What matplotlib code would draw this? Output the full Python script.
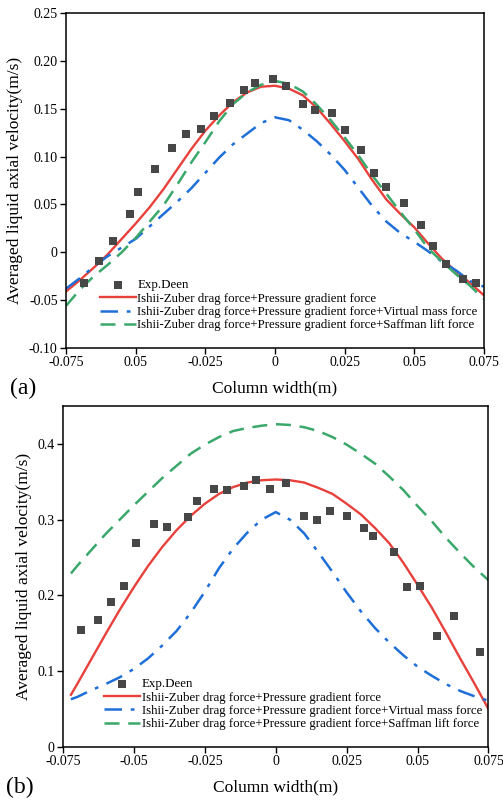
import numpy as np
import matplotlib.pyplot as plt
from matplotlib.ticker import FixedLocator, FixedFormatter

plt.rcParams['font.family'] = ['Liberation Serif', 'DejaVu Serif']
plt.rcParams['mathtext.fontset'] = 'stix'

# ---- panel (a): experimental points
exp_a_x = [-0.0686, -0.063, -0.058, -0.052, -0.049, -0.043, -0.037, -0.032, -0.0265,
           -0.022, -0.016, -0.011, -0.007, -0.0007, 0.004, 0.010, 0.0145, 0.0206,
           0.025, 0.031, 0.0357, 0.040, 0.0463, 0.0524, 0.0568, 0.0614, 0.0673, 0.072]
exp_a_y = [-0.032, -0.009, 0.012, 0.040, 0.063, 0.087, 0.109, 0.124, 0.129,
           0.142, 0.156, 0.170, 0.177, 0.181, 0.174, 0.155, 0.149, 0.146,
           0.128, 0.107, 0.083, 0.068, 0.051, 0.029, 0.007, -0.012, -0.028, -0.032]

# ---- panel (a): simulations
sim_a_x = [-0.075, -0.07, -0.065, -0.06, -0.055, -0.05, -0.045, -0.04, -0.035, -0.03,
           -0.025, -0.02, -0.015, -0.01, -0.005, 0.0, 0.005, 0.01, 0.015, 0.02,
           0.025, 0.03, 0.035, 0.04, 0.045, 0.05, 0.055, 0.06, 0.065, 0.07, 0.075]
drag_pg_a = [-0.041, -0.029, -0.016, -0.002, 0.014, 0.030, 0.047, 0.066, 0.087, 0.108,
             0.127, 0.143, 0.157, 0.167, 0.173, 0.174, 0.171, 0.164, 0.151, 0.134,
             0.116, 0.097, 0.075, 0.055, 0.040, 0.026, 0.009, -0.007, -0.020, -0.032, -0.045]
drag_pg_vm_a = [-0.038, -0.027, -0.015, -0.004, 0.005, 0.014, 0.027, 0.040, 0.053, 0.067,
                0.083, 0.099, 0.113, 0.124, 0.135, 0.141, 0.138, 0.128, 0.116, 0.102,
                0.086, 0.067, 0.048, 0.032, 0.020, 0.011, 0.001, -0.010, -0.019, -0.030, -0.036]
drag_pg_sl_a = [-0.056, -0.039, -0.025, -0.013, 0.000, 0.015, 0.032, 0.049, 0.071, 0.094,
                0.115, 0.137, 0.155, 0.167, 0.175, 0.179, 0.176, 0.168, 0.154, 0.138,
                0.120, 0.101, 0.080, 0.061, 0.042, 0.024, 0.004, -0.010, -0.023, -0.035, -0.049]

# ---- panel (b): experimental points
exp_b_x = [-0.0688, -0.0628, -0.058, -0.0536, -0.0492, -0.043, -0.0385, -0.0311, -0.0279,
           -0.0219, -0.0172, -0.0113, -0.0068, -0.0022, 0.0037, 0.0099, 0.0145, 0.0191,
           0.0252, 0.0312, 0.0343, 0.0418, 0.0462, 0.0508, 0.0568, 0.0629, 0.0721]
exp_b_y = [0.155, 0.168, 0.192, 0.213, 0.269, 0.294, 0.290, 0.303, 0.325,
           0.340, 0.339, 0.344, 0.353, 0.340, 0.348, 0.305, 0.299, 0.312,
           0.305, 0.289, 0.279, 0.257, 0.211, 0.213, 0.146, 0.173, 0.126]

# ---- panel (b): simulations
sim_b_x = [-0.0722, -0.07, -0.065, -0.06, -0.055, -0.05, -0.045, -0.04, -0.035, -0.03,
           -0.025, -0.02, -0.015, -0.01, -0.005, 0.0, 0.005, 0.01, 0.015, 0.02,
           0.025, 0.03, 0.035, 0.04, 0.045, 0.05, 0.055, 0.06, 0.065, 0.07, 0.075]
drag_pg_b = [0.069, 0.083, 0.116, 0.149, 0.181, 0.211, 0.239, 0.264, 0.286, 0.305,
             0.321, 0.334, 0.343, 0.349, 0.352, 0.353, 0.352, 0.349, 0.342, 0.334,
             0.321, 0.307, 0.289, 0.269, 0.243, 0.214, 0.184, 0.151, 0.117, 0.084, 0.050]
drag_pg_vm_b = [0.063, 0.066, 0.075, 0.083, 0.092, 0.103, 0.117, 0.134, 0.153, 0.177,
                0.205, 0.236, 0.262, 0.283, 0.300, 0.310, 0.300, 0.282, 0.257, 0.231,
                0.204, 0.179, 0.157, 0.138, 0.121, 0.106, 0.094, 0.083, 0.074, 0.067, 0.061]
drag_pg_sl_b = [0.229, 0.239, 0.260, 0.281, 0.300, 0.319, 0.337, 0.355, 0.371, 0.387,
                0.399, 0.409, 0.417, 0.421, 0.424, 0.426, 0.425, 0.422, 0.417, 0.409,
                0.399, 0.387, 0.374, 0.357, 0.339, 0.318, 0.298, 0.276, 0.256, 0.237, 0.220]

x_ticks = [-0.075, -0.05, -0.025, 0, 0.025, 0.05, 0.075]
x_ticklabels_a = ['-0.075', '0.05', '-0.025', '0', '0.025', '0.05', '0.075']
x_ticklabels_b = ['-0.075', '-0.05', '-0.025', '0', '0.025', '0.05', '0.075']
y_ticks_a = [-0.10, -0.05, 0, 0.05, 0.10, 0.15, 0.20, 0.25]
y_ticklabels_a = ['-0.10', '-0.05', '0', '0.05', '0.10', '0.15', '0.20', '0.25']
y_ticks_b = [0, 0.1, 0.2, 0.3, 0.4]
y_ticklabels_b = ['0', '0.1', '0.2', '0.3', '0.4']

labels = ['Exp.Deen',
          'Ishii-Zuber drag force+Pressure gradient force',
          'Ishii-Zuber drag force+Pressure gradient force+Virtual mass force',
          'Ishii-Zuber drag force+Pressure gradient force+Saffman lift force']

RED = '#e8413c'
BLUE = '#1f6fd8'
GREEN = '#3aa86b'
GREY = '#474747'


def draw_panel(ax, ex, ey, sx, red, blue, green, xlabels, yticks, ylabels, ylim, tag):
    ax.scatter(ex, ey, marker='s', s=26, color=GREY, linewidths=0, label=labels[0], zorder=3)
    ax.plot(sx, red, color=RED, lw=1.7, label=labels[1])
    ax.plot(sx, blue, color=BLUE, lw=1.8, dashes=(7, 3.5, 1.5, 3.5), label=labels[2])
    ax.plot(sx, green, color=GREEN, lw=1.8, dashes=(6, 3.5), label=labels[3])

    ax.set_xlim(-0.075, 0.075)
    ax.set_ylim(*ylim)
    ax.xaxis.set_major_locator(FixedLocator(x_ticks))
    ax.xaxis.set_major_formatter(FixedFormatter(xlabels))
    ax.yaxis.set_major_locator(FixedLocator(yticks))
    ax.yaxis.set_major_formatter(FixedFormatter(ylabels))
    ax.tick_params(direction='out', length=4, width=1, labelsize=10, pad=2)
    for sp in ax.spines.values():
        sp.set_linewidth(1.1)

    ax.set_xlabel('Column width(m)', fontsize=12.5, labelpad=8)
    ax.set_ylabel('Averaged liquid axial velocity(m/s)', fontsize=12.5, labelpad=4)
    ax.text(-0.135, -0.12, tag, transform=ax.transAxes, fontsize=17, va='center', ha='left')

    ax.legend(loc='lower right', bbox_to_anchor=(1.0, 0.03), frameon=False,
              fontsize=9.3, handlelength=2.8, handletextpad=0.1, labelspacing=0.1,
              borderaxespad=0.1)


fig = plt.figure(figsize=(5.03, 8.01), dpi=100)
ax_a = fig.add_axes([66 / 503, 1 - 348 / 801, 418 / 503, 335 / 801])
ax_b = fig.add_axes([63 / 503, 1 - 747 / 801, 425.5 / 503, 341 / 801])

draw_panel(ax_a, exp_a_x, exp_a_y, sim_a_x, drag_pg_a, drag_pg_vm_a, drag_pg_sl_a,
           x_ticklabels_a, y_ticks_a, y_ticklabels_a, (-0.10, 0.25), '(a)')
draw_panel(ax_b, exp_b_x, exp_b_y, sim_b_x, drag_pg_b, drag_pg_vm_b, drag_pg_sl_b,
           x_ticklabels_b, y_ticks_b, y_ticklabels_b, (0, 0.45), '(b)')

fig.savefig('out.png', dpi=100)
